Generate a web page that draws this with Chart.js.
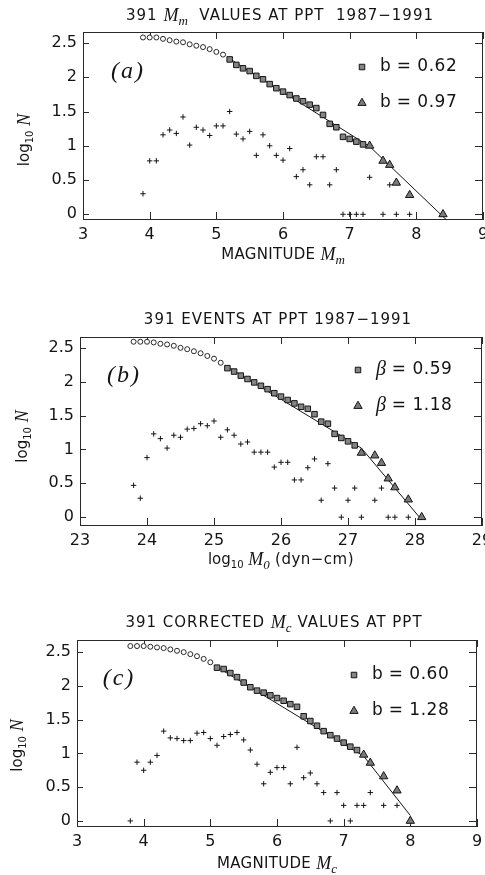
<!DOCTYPE html>
<html>
<head>
<meta charset="utf-8">
<script src="https://cdn.jsdelivr.net/npm/chart.js@4.4.1/dist/chart.umd.min.js"></script>
<style>
    html, body { margin: 0; padding: 0; background: #fff; width: 485px; height: 875px; overflow: hidden; }
    .panel { position: absolute; left: 0; width: 520px; }
</style>
</head>
<body>
<div class="panel" style="top:0"><canvas id="chartA" width="520" height="290"></canvas></div>
<div class="panel" style="top:290px"><canvas id="chartB" width="520" height="300"></canvas></div>
<div class="panel" style="top:590px"><canvas id="chartC" width="520" height="285"></canvas></div>
<script>
"use strict";

// ---- data ----
var yTicks = [0, 0.5, 1, 1.5, 2, 2.5];
var magTicks = [3, 4, 5, 6, 7, 8, 9];
var momentTicks = [23, 24, 25, 26, 27, 28, 29];

// (a) M_m
var aCircles = [[3.9,2.58],[4.0,2.58],[4.1,2.58],[4.2,2.56],[4.3,2.54],[4.4,2.52],[4.5,2.51],[4.6,2.48],[4.7,2.46],[4.8,2.44],[4.9,2.41],[5.0,2.37],[5.1,2.33]];
var aSquares = [[5.2,2.26],[5.3,2.18],[5.4,2.13],[5.5,2.09],[5.6,2.02],[5.7,1.97],[5.8,1.90],[5.9,1.84],[6.0,1.79],[6.1,1.74],[6.2,1.69],[6.3,1.65],[6.4,1.60],[6.5,1.55],[6.6,1.45],[6.7,1.32],[6.8,1.27],[6.9,1.13],[7.0,1.10],[7.1,1.06],[7.2,1.02]];
var aTriangles = [[7.3,1.00],[7.5,0.78],[7.6,0.72],[7.7,0.46],[7.9,0.28],[8.4,0]];
var aIncr = [[3.9,0.30],[4.0,0.78],[4.1,0.78],[4.2,1.16],[4.3,1.23],[4.4,1.18],[4.5,1.42],[4.6,1.01],[4.7,1.27],[4.8,1.23],[4.9,1.15],[5.0,1.29],[5.1,1.29],[5.2,1.50],[5.3,1.17],[5.4,1.10],[5.5,1.21],[5.6,0.86],[5.7,1.16],[5.8,1.00],[5.9,0.86],[6.0,0.79],[6.1,0.96],[6.2,0.55],[6.3,0.65],[6.4,0.43],[6.5,0.84],[6.6,0.84],[6.7,0.43],[6.8,0.65],[6.9,0],[7.0,0],[7.1,0],[7.2,0],[7.3,0.54],[7.5,0],[7.6,0.43],[7.7,0],[7.9,0]];
var aFit = [[5.2,2.27],[7.3,0.99],[8.45,-0.08]];
var aLegend = ['0.62', '0.97'];

// (b) log10 M0
var bCircles = [[23.8,2.59],[23.9,2.59],[24.0,2.59],[24.1,2.58],[24.2,2.56],[24.3,2.55],[24.4,2.53],[24.5,2.50],[24.6,2.48],[24.7,2.45],[24.8,2.42],[24.9,2.38],[25.0,2.34],[25.1,2.28]];
var bSquares = [[25.2,2.20],[25.3,2.15],[25.4,2.09],[25.5,2.04],[25.6,1.99],[25.7,1.94],[25.8,1.89],[25.9,1.83],[26.0,1.78],[26.1,1.73],[26.2,1.68],[26.3,1.63],[26.4,1.60],[26.5,1.52],[26.6,1.41],[26.7,1.38],[26.8,1.23],[26.9,1.17],[27.0,1.12],[27.1,1.06]];
var bTriangles = [[27.2,0.95],[27.4,0.91],[27.5,0.80],[27.6,0.57],[27.7,0.44],[27.9,0.26],[28.1,0]];
var bIncr = [[23.8,0.47],[23.9,0.28],[24.0,0.88],[24.1,1.23],[24.2,1.16],[24.3,1.02],[24.4,1.21],[24.5,1.18],[24.6,1.30],[24.7,1.31],[24.8,1.38],[24.9,1.35],[25.0,1.42],[25.1,1.18],[25.2,1.29],[25.3,1.21],[25.4,1.08],[25.5,1.11],[25.6,0.96],[25.7,0.96],[25.8,0.96],[25.9,0.74],[26.0,0.81],[26.1,0.81],[26.2,0.55],[26.3,0.55],[26.4,0.73],[26.5,0.86],[26.6,0.25],[26.7,0.79],[26.8,0.43],[26.9,0],[27.0,0.25],[27.1,0.43],[27.2,0],[27.4,0.25],[27.5,0.43],[27.6,0],[27.7,0],[27.9,0]];
var bFit = [[25.2,2.22],[27.2,1.02],[28.1,-0.04]];
var bLegend = ['0.59', '1.18'];

// (c) M_c
var cCircles = [[3.8,2.59],[3.9,2.59],[4.0,2.59],[4.1,2.58],[4.2,2.57],[4.3,2.56],[4.4,2.54],[4.5,2.52],[4.6,2.50],[4.7,2.47],[4.8,2.44],[4.9,2.40],[5.0,2.35]];
var cSquares = [[5.1,2.27],[5.2,2.25],[5.3,2.19],[5.4,2.13],[5.5,2.05],[5.6,1.98],[5.7,1.93],[5.8,1.90],[5.9,1.86],[6.0,1.82],[6.1,1.78],[6.2,1.73],[6.3,1.69],[6.4,1.55],[6.5,1.48],[6.6,1.41],[6.7,1.33],[6.8,1.27],[6.9,1.22],[7.0,1.16],[7.1,1.10],[7.2,1.05]];
var cTriangles = [[7.3,0.98],[7.4,0.86],[7.6,0.66],[7.8,0.45],[8.0,0]];
var cIncr = [[3.8,0],[3.9,0.87],[4.0,0.75],[4.1,0.87],[4.2,0.97],[4.3,1.33],[4.4,1.23],[4.5,1.22],[4.6,1.19],[4.7,1.19],[4.8,1.30],[4.9,1.31],[5.0,1.22],[5.1,1.12],[5.2,1.25],[5.3,1.28],[5.4,1.31],[5.5,1.20],[5.6,1.05],[5.7,0.84],[5.8,0.55],[5.9,0.72],[6.0,0.79],[6.1,0.79],[6.2,0.55],[6.3,1.09],[6.4,0.64],[6.5,0.71],[6.6,0.55],[6.7,0.42],[6.8,0],[6.9,0.42],[7.0,0.23],[7.1,0],[7.2,0.23],[7.3,0.23],[7.4,0.42],[7.6,0.23],[7.8,0.23]];
var cFit = [[5.1,2.28],[7.3,0.96],[8.0,0.08]];
var cLegend = ['0.60', '1.28'];

// ---- fonts ----
var TXT = '15px "DejaVu Sans"';
var LEG = '17px "DejaVu Sans"';
var SUB = '10px "DejaVu Sans"';
var MATH = 'italic 18px "Liberation Serif"';
var MSUB = 'italic 13px "Liberation Serif"';
var INK = '#141414';

var squareStyle = { pointStyle: 'rect', radius: 3.9, bg: '#858585' };
var triStyle = { pointStyle: 'triangle', radius: 4.8, bg: '#7a7a7a' };

// draw a run of text pieces (font / baseline shift each)
function drawRich(ctx, segs, x, y, align, rot) {
    ctx.save();
    ctx.translate(x, y);
    if (rot) ctx.rotate(rot);
    ctx.fillStyle = INK;
    ctx.textBaseline = 'middle';
    var w = 0;
    segs.forEach(function (s) {
        ctx.font = s.f;
        ctx.letterSpacing = s.ls || '0px';
        s.w = ctx.measureText(s.t).width;
        w += s.w;
    });
    var cx = align === 'left' ? 0 : -w / 2;
    segs.forEach(function (s) {
        ctx.font = s.f;
        ctx.letterSpacing = s.ls || '0px';
        ctx.textAlign = 'left';
        ctx.fillText(s.t, cx, s.dy || 0);
        cx += s.w;
    });
    ctx.restore();
}

function marker(ctx, st, x, y) {
    ctx.save();
    ctx.fillStyle = st.bg;
    ctx.strokeStyle = INK;
    ctx.lineWidth = 1;
    Chart.helpers.drawPoint(ctx, { pointStyle: st.pointStyle, radius: st.radius, borderWidth: 1, rotation: 0 }, x, y);
    ctx.restore();
}

function toPts(arr) {
    return arr.map(function (p) { return { x: p[0], y: p[1] }; });
}

// frame with inward ticks on all four sides + all the labels
var framePlugin = {
    id: 'frame',
    beforeDatasetsDraw: function (chart) {
        var ctx = chart.ctx, a = chart.chartArea, sx = chart.scales.x, sy = chart.scales.y;
        ctx.save();
        ctx.strokeStyle = '#2a2a2a';
        ctx.lineWidth = 1;
        ctx.strokeRect(Math.round(a.left) + 0.5, Math.round(a.top) + 0.5, Math.round(a.right - a.left) - 1, Math.round(a.bottom - a.top) - 1);
        ctx.beginPath();
        sx.ticks.forEach(function (t) {
            var px = Math.round(sx.getPixelForValue(t.value)) + 0.5;
            ctx.moveTo(px, a.bottom); ctx.lineTo(px, a.bottom - 8);
            ctx.moveTo(px, a.top); ctx.lineTo(px, a.top + 7);
        });
        sy.ticks.forEach(function (t) {
            var py = Math.round(sy.getPixelForValue(t.value)) + 0.5;
            ctx.moveTo(a.left, py); ctx.lineTo(a.left + 6, py);
            ctx.moveTo(a.right, py); ctx.lineTo(a.right - 8, py);
        });
        ctx.stroke();
        ctx.restore();
    },
    afterDraw: function (chart) {
        var o = chart.options.plugins.frame, ctx = chart.ctx, a = chart.chartArea;
        drawRich(ctx, o.title, (a.left + a.right) / 2 - 3, o.titleY);
        drawRich(ctx, o.xTitle, (a.left + a.right) / 2, a.bottom + o.xTitleDy);
        drawRich(ctx, o.yTitle, o.yTitleX, (a.top + a.bottom) / 2 + o.yTitleDy, 'center', -Math.PI / 2);
        drawRich(ctx, [{ t: o.tag, f: 'italic 24px "Liberation Serif"', ls: '2px' }], o.tagX, a.top + o.tagDy);
        var lx = a.right - o.legDx;
        var styles = [squareStyle, triStyle];
        o.legend.forEach(function (v, i) {
            var ly = a.top + o.legDy + i * 36;
            marker(ctx, styles[i], lx, ly);
            var sym = o.legSym === 'b' ? { t: 'b', f: LEG } : { t: o.legSym, f: 'italic 20px "Liberation Serif"' };
            drawRich(ctx, [sym, { t: ' = ' + v, f: LEG, ls: '0.5px' }], lx + 18, ly, 'left');
        });
    }
};

function makePanel(id, p) {
    var ctx = document.getElementById(id).getContext('2d');
    var H = ctx.canvas.height;
    return new Chart(ctx, {
        type: 'scatter',
        data: {
            datasets: [{
                data: toPts(p.circles),
                pointStyle: 'circle', pointRadius: 2.5, pointBorderWidth: 0.9,
                pointBackgroundColor: '#fff', pointBorderColor: INK
            }, {
                data: toPts(p.squares),
                pointStyle: squareStyle.pointStyle, pointRadius: squareStyle.radius, pointBorderWidth: 1,
                pointBackgroundColor: squareStyle.bg, pointBorderColor: INK
            }, {
                data: toPts(p.triangles),
                pointStyle: triStyle.pointStyle, pointRadius: triStyle.radius, pointBorderWidth: 1,
                pointBackgroundColor: triStyle.bg, pointBorderColor: INK
            }, {
                data: toPts(p.incr),
                pointStyle: 'cross', pointRadius: 2.7, pointBorderWidth: 1,
                pointBorderColor: INK
            }, {
                data: toPts(p.fit),
                showLine: true, pointRadius: 0, borderColor: INK, borderWidth: 1, fill: false
            }]
        },
        options: {
            responsive: false,
            animation: false,
            events: [],
            clip: false,
            layout: { padding: { left: 0, top: p.area.top, right: 520 - p.area.right, bottom: 0 } },
            scales: {
                x: {
                    type: 'linear', min: p.xTicks[0], max: p.xTicks[p.xTicks.length - 1],
                    afterBuildTicks: function (s) { s.ticks = p.xTicks.map(function (v) { return { value: v }; }); },
                    afterFit: function (s) { s.height = H - p.area.bottom; },
                    grid: { display: false, drawTicks: false }, border: { display: false },
                    ticks: { font: { family: 'DejaVu Sans', size: 16 }, color: INK, padding: 5, maxRotation: 0, autoSkip: false,
                        callback: function (v) { return String(v); } }
                },
                y: {
                    type: 'linear', min: p.yMin, max: p.yMax,
                    afterBuildTicks: function (s) { s.ticks = yTicks.map(function (v) { return { value: v }; }); },
                    afterFit: function (s) { s.width = p.area.left; },
                    grid: { display: false, drawTicks: false }, border: { display: false },
                    ticks: { font: { family: 'DejaVu Sans', size: 16 }, color: INK, padding: 6, autoSkip: false,
                        callback: function (v) { return String(v); } }
                }
            },
            plugins: {
                legend: { display: false },
                tooltip: { enabled: false },
                frame: p.text
            }
        },
        plugins: [framePlugin]
    });
}

var yTitleSegs = [{ t: 'log', f: TXT }, { t: '10', f: SUB, dy: 5 }, { t: ' ', f: TXT }, { t: 'N', f: MATH }];

// (a)
makePanel('chartA', {
    circles: aCircles, squares: aSquares, triangles: aTriangles, incr: aIncr, fit: aFit,
    xTicks: magTicks, yMin: -0.083, yMax: 2.66,
    area: { left: 83, right: 483, top: 32, bottom: 220 },
    text: {
        title: [{ t: '391 ', f: TXT, ls: '1px' }, { t: 'M', f: MATH }, { t: 'm', f: MSUB, dy: 6 }, { t: '  VALUES AT PPT  1987\u22121991', f: TXT, ls: '1px' }],
        titleY: 16,
        xTitle: [{ t: 'MAGNITUDE ', f: TXT, ls: '0.3px' }, { t: 'M', f: MATH }, { t: 'm', f: MSUB, dy: 6 }],
        xTitleDy: 35,
        yTitle: yTitleSegs, yTitleX: 25, yTitleDy: 14,
        tag: '(a)', tagX: 128, tagDy: 40,
        legend: aLegend, legSym: 'b', legDx: 121, legDy: 35
    }
});

// (b)
makePanel('chartB', {
    circles: bCircles, squares: bSquares, triangles: bTriangles, incr: bIncr, fit: bFit,
    xTicks: momentTicks, yMin: -0.13, yMax: 2.66,
    area: { left: 80, right: 482, top: 47, bottom: 236 },
    text: {
        title: [{ t: '391 EVENTS AT PPT 1987\u22121991', f: TXT, ls: '1px' }],
        titleY: 30,
        xTitle: [{ t: 'log', f: TXT }, { t: '10', f: SUB, dy: 5 }, { t: ' ', f: TXT }, { t: 'M', f: MATH }, { t: '0', f: MSUB, dy: 6 }, { t: ' (dyn\u2212cm)', f: TXT, ls: '0.5px' }],
        xTitleDy: 34,
        yTitle: yTitleSegs, yTitleX: 23, yTitleDy: 5,
        tag: '(b)', tagX: 124, tagDy: 39,
        legend: bLegend, legSym: '\u03b2', legDx: 124, legDy: 33
    }
});

// (c)
makePanel('chartC', {
    circles: cCircles, squares: cSquares, triangles: cTriangles, incr: cIncr, fit: cFit,
    xTicks: magTicks, yMin: -0.09, yMax: 2.68,
    area: { left: 77, right: 477, top: 50, bottom: 237 },
    text: {
        title: [{ t: '391 CORRECTED ', f: TXT, ls: '1px' }, { t: 'M', f: MATH }, { t: 'c', f: MSUB, dy: 6 }, { t: ' VALUES AT PPT', f: TXT, ls: '1px' }],
        titleY: 33,
        xTitle: [{ t: 'MAGNITUDE ', f: TXT, ls: '0.3px' }, { t: 'M', f: MATH }, { t: 'c', f: MSUB, dy: 6 }],
        xTitleDy: 37,
        yTitle: yTitleSegs, yTitleX: 18, yTitleDy: 12,
        tag: '(c)', tagX: 119, tagDy: 39,
        legend: cLegend, legSym: 'b', legDx: 123, legDy: 35
    }
});
</script>
</body>
</html>
